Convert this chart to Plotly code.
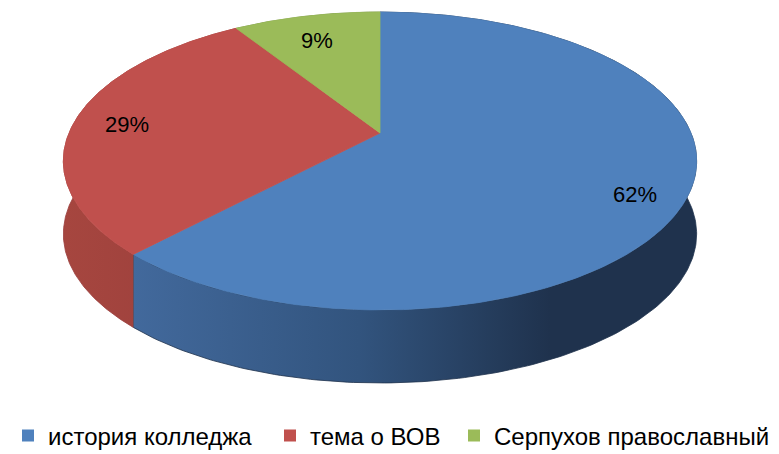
import numpy as np
import plotly.graph_objects as go

# ---- data ----
categories = ["история колледжа", "тема о ВОВ", "Серпухов православный"]
values = [62, 29, 9]
top_colors = ["#4F81BD", "#C0504D", "#9BBB59"]
side_scales = [
    [[0, "#42699C"], [0.4, "#32547E"], [0.74, "#1F324D"], [1, "#1F324D"]],
    [[0, "#A6463F"], [1, "#9A3E3C"]],
    [[0, "#7A9446"], [1, "#6E8740"]],
]

PAGE_W, PAGE_H, BODY = 779, 454, 8   # browser window and default body margin
CX, CY = 380, 133                    # pie centre (apex) in page pixels
RX, RY, K = 311, 143.7, 0.188        # radii and perspective factor
DEPTH = 73                           # thickness of the pie in pixels
LABEL_R = 0.83
LEGEND_TEXT_X = [35, 310, 494]       # where each legend text starts (page px)
LEGEND_Y = 436


def proj(theta, r=1.0):
    """theta: clockwise from 12 o'clock (radians)."""
    u = r * np.sin(theta)
    v = -r * np.cos(theta)
    s = 1.0 / (1.0 - K * v)
    return CX + RX * u * s, CY + RY * v * s


total = float(sum(values))
bounds = np.concatenate([[0.0], np.cumsum(values) / total]) * 2 * np.pi

fig = go.Figure()

# sides
for i in range(len(values)):
    t = np.linspace(bounds[i], bounds[i + 1], 240)
    x, y = proj(t)
    xs = np.concatenate([x, x[::-1]])
    ys = np.concatenate([y, (y + DEPTH)[::-1]])
    fig.add_trace(go.Scatter(
        x=xs, y=ys, mode="lines", fill="toself",
        line=dict(width=0.8, color=side_scales[i][-1][1]),
        fillgradient=dict(type="horizontal", colorscale=side_scales[i]),
        hoverinfo="skip", showlegend=False))

# top faces
for i in range(len(values)):
    t = np.linspace(bounds[i], bounds[i + 1], 240)
    x, y = proj(t)
    xs = np.concatenate([[CX], x, [CX]])
    ys = np.concatenate([[CY], y, [CY]])
    fig.add_trace(go.Scatter(
        x=xs, y=ys, mode="lines", fill="toself", fillcolor=top_colors[i],
        line=dict(width=0.8, color=top_colors[i]),
        hoverinfo="skip", showlegend=False))

# labels
for i in range(len(values)):
    mid = (bounds[i] + bounds[i + 1]) / 2
    lx, ly = proj(mid, LABEL_R)
    fig.add_annotation(x=lx, y=ly + 9 + 6 * np.sin(mid),
                       text=f"{round(values[i] / total * 100)}%",
                       showarrow=False, font=dict(size=22, color="#000000"))

fig_w, fig_h = PAGE_W, PAGE_H

# legend entries, one legend box per entry so each sits where the reference has it
legend_layouts = {}
for i, name in enumerate(categories):
    key = "legend" if i == 0 else f"legend{i + 1}"
    fig.add_trace(go.Scatter(
        x=[None], y=[None], mode="markers", name=name, legend=key,
        marker=dict(symbol="square", size=14, color=top_colors[i])))
    legend_layouts[key] = dict(
        orientation="h", x=max(0.0, (LEGEND_TEXT_X[i] - BODY - 40) / fig_w), xanchor="left",
        y=1 - (LEGEND_Y - BODY) / fig_h, yanchor="middle",
        font=dict(size=24), itemsizing="constant", bgcolor="rgba(0,0,0,0)")

# the page body has an 8px margin, so the figure starts at (8, 8) in the window;
# axis ranges are set so that data units equal window pixels
fig.update_layout(
    width=fig_w, height=fig_h,
    margin=dict(l=0, r=0, t=0, b=0, autoexpand=False),
    paper_bgcolor="white", plot_bgcolor="white",
    font=dict(family="Liberation Sans, Arial, sans-serif", size=24, color="#000000"),
    xaxis=dict(range=[BODY, BODY + fig_w], visible=False, fixedrange=True),
    yaxis=dict(range=[BODY + fig_h, BODY], visible=False, fixedrange=True),
    **legend_layouts,
)

fig.write_html("out.html")
